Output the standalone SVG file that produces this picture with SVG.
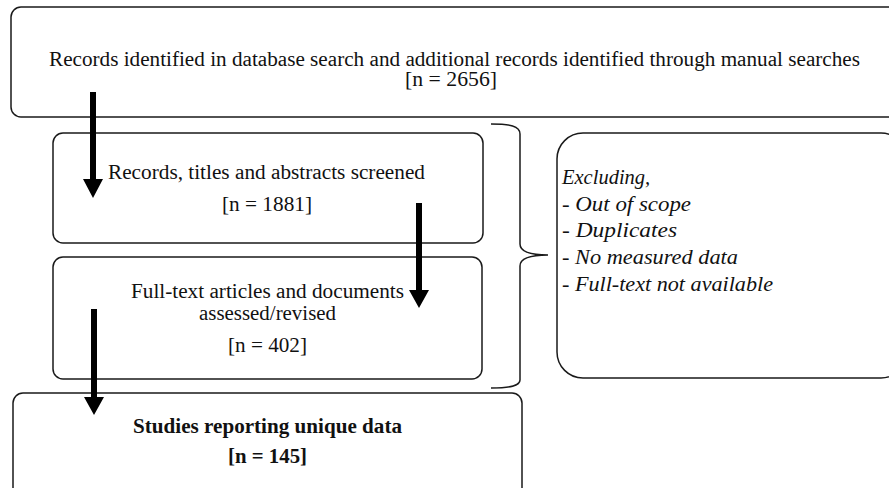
<svg xmlns="http://www.w3.org/2000/svg" width="889" height="488" viewBox="0 0 889 488">
  <style>
    .box { fill: #ffffff; stroke: #1a1a1a; stroke-width: 1.5; }
    .brace { fill: none; stroke: #1a1a1a; stroke-width: 1.5; }
    .arrow { fill: #000000; stroke: none; }
    text { font-family: "Liberation Serif", "Times New Roman", serif; font-size: 20.5px; fill: #111111; }
    .c { text-anchor: middle; }
    .b { font-weight: bold; }
    .i { font-style: italic; }
  </style>

  <rect width="889" height="488" fill="#ffffff"/>

  <!-- identification -->
  <g id="identified">
    <rect class="box" x="11" y="7" width="895" height="110" rx="10"/>
    <text class="c" x="454.5" y="66" textLength="811" lengthAdjust="spacingAndGlyphs">Records identified in database search and additional records identified through manual searches</text>
    <text class="c" x="451" y="86" textLength="92" lengthAdjust="spacingAndGlyphs">[n = 2656]</text>
  </g>

  <!-- screening -->
  <g id="screened">
    <rect class="box" x="53" y="133" width="430" height="110" rx="10"/>
    <text class="c" x="266.5" y="179" textLength="317" lengthAdjust="spacingAndGlyphs">Records, titles and abstracts screened</text>
    <text class="c" x="267" y="211" textLength="90" lengthAdjust="spacingAndGlyphs">[n = 1881]</text>
  </g>

  <!-- eligibility -->
  <g id="assessed">
    <rect class="box" x="53" y="257" width="429" height="122" rx="10"/>
    <text class="c" x="267.5" y="298" textLength="273" lengthAdjust="spacingAndGlyphs">Full-text articles and documents</text>
    <text class="c" x="267.5" y="320" textLength="137" lengthAdjust="spacingAndGlyphs">assessed/revised</text>
    <text class="c" x="267.5" y="352" textLength="79" lengthAdjust="spacingAndGlyphs">[n = 402]</text>
  </g>

  <!-- included -->
  <g id="included">
    <rect class="box" x="13" y="393" width="509" height="110" rx="10"/>
    <text class="c b" x="267.5" y="433" textLength="269" lengthAdjust="spacingAndGlyphs">Studies reporting unique data</text>
    <text class="c b" x="267.5" y="463" textLength="79" lengthAdjust="spacingAndGlyphs">[n = 145]</text>
  </g>

  <!-- exclusion criteria -->
  <g id="excluded">
    <rect class="box" x="557" y="133" width="350" height="245" rx="26"/>
    <text class="i" x="562" y="184">Excluding,</text>
    <text class="i" x="562" y="211" textLength="129" lengthAdjust="spacingAndGlyphs">- Out of scope</text>
    <text class="i" x="562" y="237" textLength="115" lengthAdjust="spacingAndGlyphs">- Duplicates</text>
    <text class="i" x="562" y="264" textLength="176" lengthAdjust="spacingAndGlyphs">- No measured data</text>
    <text class="i" x="562" y="291" textLength="211" lengthAdjust="spacingAndGlyphs">- Full-text not available</text>
  </g>

  <!-- connectors -->
  <g id="connectors">
    <path class="brace" d="M491,124 C510,124 520,126 520,134 L520,244 C520,252 530,255 548,255 C530,255 520,258 520,266 L520,380 C520,386 510,388 491,388"/>
    <path class="arrow" d="M90,92 H96 V179 H103 L93,198 L83,179 H90 Z"/>
    <path class="arrow" d="M416,203 H422 V290 H429 L419,308 L409,290 H416 Z"/>
    <path class="arrow" d="M91,309 H97 V397 H104 L94,415 L84,397 H91 Z"/>
  </g>
</svg>
